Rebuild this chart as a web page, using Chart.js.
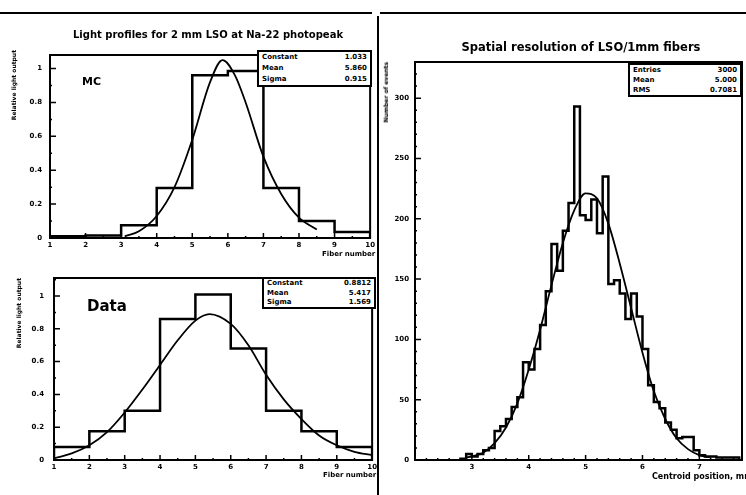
<!DOCTYPE html>
<html lang="en">
<head>
<meta charset="UTF-8">
<title>LSO light profiles and spatial resolution</title>
<script src="https://cdn.jsdelivr.net/npm/chart.js"></script>
<style>
  body { margin: 0; background: #fff; }
  #page { position: relative; width: 746px; height: 495px; overflow: hidden; background: #fff; font-family: "DejaVu Sans", sans-serif; color: #000; }
  canvas { position: absolute; }
  .rule { position: absolute; background: #000; }
  .title { position: absolute; font-weight: bold; white-space: nowrap; transform: translateX(-50%); }
  .ytitle { position: absolute; font-weight: bold; white-space: nowrap; writing-mode: vertical-rl; transform: rotate(180deg); }
  .xtitle { position: absolute; font-weight: bold; white-space: nowrap; }
  .stats { position: absolute; border: 2px solid #000; background: #fff; font-size: 7px; font-weight: bold; box-sizing: border-box; padding: 0 3px; }
  .stats div { display: flex; justify-content: space-between; }
  .tag { position: absolute; font-weight: bold; }
</style>
</head>
<body>
<div id="page">
  <div class="rule" style="left:0;top:12px;width:372px;height:2px"></div>
  <div class="rule" style="left:380px;top:12px;width:366px;height:2px"></div>
  <div class="rule" style="left:377px;top:16px;width:2px;height:479px"></div>

  <canvas id="mcChart" width="378" height="262" style="left:0;top:0"></canvas>
  <canvas id="dataChart" width="380" height="233" style="left:0;top:262px"></canvas>
  <canvas id="resChart" width="366" height="495" style="left:380px;top:0"></canvas>

  <div class="title" style="left:208px;top:29px;font-size:10px">Light profiles for 2 mm LSO at Na-22 photopeak</div>
  <div class="title" style="left:581px;top:40px;font-size:11.5px">Spatial resolution of LSO/1mm fibers</div>

  <div class="ytitle" style="left:10px;top:50px;font-size:6px">Relative light output</div>
  <div class="ytitle" style="left:15px;top:278px;font-size:6px">Relative light output</div>
  <div class="ytitle" style="left:382px;top:62px;font-size:6px">Number of events</div>

  <div class="xtitle" style="left:322px;top:250px;font-size:7px">Fiber number</div>
  <div class="xtitle" style="left:323px;top:471px;font-size:7px">Fiber number</div>
  <div class="xtitle" style="left:652px;top:472px;font-size:8px">Centroid position, mm</div>

  <div class="tag" style="left:82px;top:75px;font-size:11px">MC</div>
  <div class="tag" style="left:87px;top:297px;font-size:15px">Data</div>

  <div class="stats" style="left:257px;top:50px;width:115px;height:37px;line-height:11px">
    <div><span>Constant</span><span>1.033</span></div>
    <div><span>Mean</span><span>5.860</span></div>
    <div><span>Sigma</span><span>0.915</span></div>
  </div>
  <div class="stats" style="left:262px;top:277px;width:114px;height:32px;line-height:9.5px">
    <div><span>Constant</span><span>0.8812</span></div>
    <div><span>Mean</span><span>5.417</span></div>
    <div><span>Sigma</span><span>1.569</span></div>
  </div>
  <div class="stats" style="left:628px;top:63px;width:114px;height:34px;line-height:10px">
    <div><span>Entries</span><span>3000</span></div>
    <div><span>Mean</span><span>5.000</span></div>
    <div><span>RMS</span><span>0.7081</span></div>
  </div>
</div>

<script>
// MC light profile (fiber bins 1..10)
const fiberEdges = [1, 2, 3, 4, 5, 6, 7, 8, 9, 10];
const fiberTicks = [1, 2, 3, 4, 5, 6, 7, 8, 9, 10];
const mcCounts = [0.01, 0.015, 0.075, 0.295, 0.96, 0.985, 0.295, 0.10, 0.035];
const mcFitX = [3.1, 3.5, 4.0, 4.5, 5.0, 5.5, 5.85, 6.2, 6.5, 7.0, 7.5, 8.0, 8.5];
const mcFitY = [0.01, 0.04, 0.13, 0.30, 0.58, 0.92, 1.05, 0.96, 0.80, 0.48, 0.26, 0.12, 0.05];

// measured light profile
const dataCounts = [0.08, 0.175, 0.30, 0.86, 1.01, 0.68, 0.30, 0.175, 0.08];
const dataFitX = [1.0, 1.5, 2.0, 2.5, 3.0, 3.5, 4.0, 4.5, 5.0, 5.4, 6.0, 6.5, 7.0, 7.5, 8.0, 8.5, 9.0, 9.5, 10.0];
const dataFitY = [0.01, 0.04, 0.09, 0.17, 0.29, 0.43, 0.58, 0.73, 0.85, 0.89, 0.83, 0.70, 0.52, 0.37, 0.25, 0.15, 0.09, 0.05, 0.03];
const lightTicks = [0, 0.2, 0.4, 0.6, 0.8, 1];

// spatial resolution, 0.1 mm bins starting at 2.8 mm
const resStart = 2.8;
const resBin = 0.1;
const resCounts = [1, 5, 3, 5, 8, 10, 24, 28, 34, 44, 52, 81, 75, 92, 112, 140, 179, 157, 190, 213,
                   293, 203, 199, 216, 188, 235, 146, 149, 138, 117, 138, 119, 92, 62, 48, 43, 31, 25, 18, 19,
                   19, 8, 4, 3, 3, 2, 2, 2, 2];
const resFitX = [2.9, 3.0, 3.2, 3.4, 3.6, 3.8, 4.0, 4.2, 4.4, 4.6, 4.8, 5.0, 5.2, 5.4, 5.6, 5.8, 6.0, 6.2, 6.4, 6.6, 6.8, 7.0, 7.2];
const resFitY = [2, 3, 6, 14, 27, 47, 75, 108, 145, 180, 207, 221, 217, 196, 163, 126, 89, 57, 34, 18, 9, 4, 2];
const resXTicks = [3, 4, 5, 6, 7];
const resYTicks = [0, 50, 100, 150, 200, 250, 300];

const tickFont = { family: 'DejaVu Sans', size: 7, weight: 'bold' };

// outline of a histogram: each count is held over [edge i, edge i+1]
function histPoints(edges, counts) {
  const pts = [{ x: edges[0], y: 0 }];
  counts.forEach((c, i) => pts.push({ x: edges[i + 1], y: c }));
  pts.push({ x: edges[edges.length - 1], y: 0 });
  return pts;
}

function curvePoints(xs, ys) {
  return xs.map((x, i) => ({ x: x, y: ys[i] }));
}

// frame + inward ticks, ROOT style
const framePlugin = {
  id: 'frame',
  afterDatasetsDraw(chart, args, opts) {
    const { ctx, chartArea: a, scales } = chart;
    ctx.save();
    ctx.strokeStyle = '#000';
    ctx.lineWidth = 2;
    ctx.strokeRect(a.left, a.top, a.right - a.left, a.bottom - a.top);
    ctx.lineWidth = 1.5;
    ctx.beginPath();
    for (let v = scales.x.min; v <= scales.x.max + 1e-9; v += opts.xMinor) {
      const px = scales.x.getPixelForValue(v);
      ctx.moveTo(px, a.bottom); ctx.lineTo(px, a.bottom - 2);
    }
    scales.x.ticks.forEach(t => {
      const px = scales.x.getPixelForValue(t.value);
      ctx.moveTo(px, a.bottom); ctx.lineTo(px, a.bottom - 5);
    });
    for (let v = scales.y.min; v <= scales.y.max + 1e-9; v += opts.yMinor) {
      const py = scales.y.getPixelForValue(v);
      ctx.moveTo(a.left, py); ctx.lineTo(a.left + 2, py);
    }
    scales.y.ticks.forEach(t => {
      const py = scales.y.getPixelForValue(t.value);
      ctx.moveTo(a.left, py); ctx.lineTo(a.left + 6, py);
    });
    ctx.stroke();
    ctx.restore();
  }
};

function makeChart(id, cfg) {
  return new Chart(document.getElementById(id), {
    type: 'line',
    data: {
      datasets: [
        { data: cfg.hist, borderColor: '#000', borderWidth: 2.5, stepped: 'after', pointRadius: 0, fill: false },
        { data: cfg.fit, borderColor: '#000', borderWidth: 1.8, cubicInterpolationMode: 'monotone', pointRadius: 0, fill: false }
      ]
    },
    options: {
      responsive: false,
      animation: false,
      events: [],
      layout: { padding: cfg.padding },
      plugins: {
        legend: { display: false },
        tooltip: { enabled: false },
        frame: { xMinor: cfg.xMinor, yMinor: cfg.yMinor }
      },
      scales: {
        x: {
          type: 'linear', min: cfg.xMin, max: cfg.xMax,
          afterFit: s => { s.height = cfg.xHeight; },
          afterBuildTicks: s => { s.ticks = cfg.xTicks.map(v => ({ value: v })); },
          ticks: { font: tickFont, color: '#000', padding: 3, maxRotation: 0, autoSkip: false, callback: v => String(v) },
          grid: { display: false, drawTicks: false },
          border: { display: false }
        },
        y: {
          type: 'linear', min: 0, max: cfg.yMax,
          afterFit: s => { s.width = cfg.yWidth; },
          afterBuildTicks: s => { s.ticks = cfg.yTicks.map(v => ({ value: v })); },
          ticks: { font: tickFont, color: '#000', padding: cfg.yPad, autoSkip: false, callback: v => String(v) },
          grid: { display: false, drawTicks: false },
          border: { display: false }
        }
      }
    },
    plugins: [framePlugin]
  });
}

const resEdges = [];
for (let i = 0; i <= resCounts.length; i++) resEdges.push(+(resStart + i * resBin).toFixed(2));

makeChart('mcChart', {
  hist: histPoints(fiberEdges, mcCounts), fit: curvePoints(mcFitX, mcFitY),
  padding: { left: 0, top: 55, right: 6, bottom: 0 },
  xMin: 1, xMax: 10, yMax: 1.08, xHeight: 24, yWidth: 50, yPad: 8,
  xTicks: fiberTicks, yTicks: lightTicks, xMinor: 0.5, yMinor: 0.1
});

makeChart('dataChart', {
  hist: histPoints(fiberEdges, dataCounts), fit: curvePoints(dataFitX, dataFitY),
  padding: { left: 0, top: 16, right: 3, bottom: 0 },
  xMin: 1, xMax: 10, yMax: 1.11, xHeight: 35, yWidth: 54, yPad: 10,
  xTicks: fiberTicks, yTicks: lightTicks, xMinor: 0.5, yMinor: 0.1
});

makeChart('resChart', {
  hist: histPoints(resEdges, resCounts), fit: curvePoints(resFitX, resFitY),
  padding: { left: 0, top: 62, right: 4, bottom: 0 },
  xMin: 2, xMax: 7.75, yMax: 330, xHeight: 35, yWidth: 35, yPad: 6,
  xTicks: resXTicks, yTicks: resYTicks, xMinor: 0.2, yMinor: 10
});
</script>
</body>
</html>
